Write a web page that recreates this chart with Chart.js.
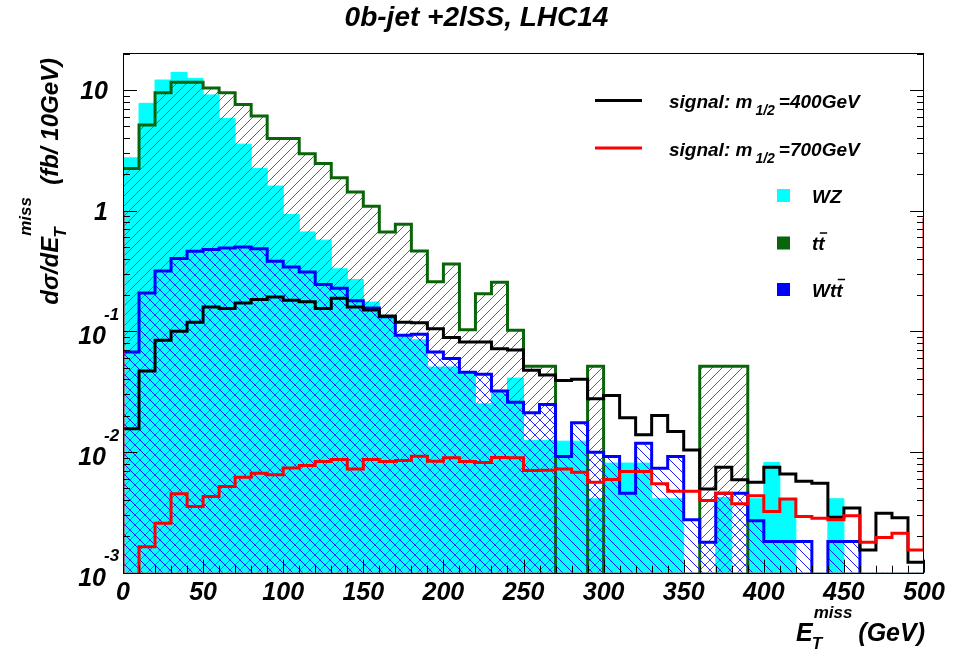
<!DOCTYPE html>
<html><head><meta charset="utf-8">
<script src="https://cdn.jsdelivr.net/npm/chart.js@4.4.0/dist/chart.umd.min.js"></script>
<style>html,body{margin:0;padding:0;background:#fff;}#c{display:block;}</style>
</head><body>
<canvas id="c" width="953" height="652"></canvas>
<script>
// ---- data (bins of 10 GeV, low edges) ----
const binLow = [0,10,20,30,40,50,60,70,80,90,100,110,120,130,140,150,160,170,180,190,
  200,210,220,230,240,250,260,270,280,290,300,310,320,330,340,350,360,370,380,390,
  400,410,420,430,440,450,460,470,480,490];
const binHigh = 500;
const wz = [2.74,7.76,12.1,14.0,12.5,9.1,5.82,3.56,2.24,1.60,
  0.93,0.667,0.57,0.33,0.269,0.175,0.13,0.09,0.085,0.0506,
  0.0506,0.045,0.0251,0.031,0.041,0.0125,0.0125,0.0123,0.0123,0.0041,
  0.0081,0.0081,0.0081,0.0041,0.0041,0,0,0.0042,0,0.0041,
  0.0082,0.0040,0,0,0.0041,0,0,0,0,0];
const ttbar = [2.24,5.12,9.5,11.6,11.6,10.4,9.5,7.6,6.1,3.97,
  3.97,2.96,2.46,1.87,1.43,1.09,0.667,0.773,0.464,0.258,
  0.362,0.103,0.205,0.255,0.102,0.0513,0.0513,0,0,0.0513,
  0,0,0,0,0,0,0.0513,0.0513,0.0513,0,
  0,0,0,0,0,0,0,0,0,0];
const wtt = [0.0673,0.208,0.317,0.401,0.461,0.476,0.491,0.50,0.483,0.381,
  0.342,0.310,0.244,0.228,0.179,0.156,0.132,0.0927,0.0947,0.0673,
  0.0595,0.0459,0.0441,0.032,0.0259,0.0212,0.0248,0.00918,0.0175,0.00996,
  0.00918,0.00455,0.0118,0.00734,0.00918,0.00274,0.00179,0.00455,0.00455,0.0027,
  0.00181,0.00181,0.00181,0,0.00181,0.00181,0,0,0,0];
const sig400 = [0.0156,0.0469,0.0842,0.100,0.119,0.159,0.155,0.172,0.184,0.193,
  0.181,0.176,0.155,0.188,0.159,0.150,0.134,0.119,0.118,0.105,
  0.089,0.0815,0.0815,0.0718,0.070,0.0475,0.0435,0.0392,0.040,0.0276,
  0.0294,0.0192,0.0139,0.0201,0.0148,0.0104,0.00495,0.00748,0.00588,0.00562,
  0.00748,0.00659,0.00572,0.00551,0.00288,0.00344,0.00154,0.00311,0.00286,0.00122];
const sig700 = [0,0.00164,0.00257,0.0045,0.00353,0.00427,0.00517,0.00618,0.00667,0.00647,
  0.00739,0.00773,0.00834,0.00867,0.00725,0.00866,0.00834,0.0085,0.00923,0.0084,
  0.00895,0.00834,0.00818,0.009,0.00895,0.00702,0.00705,0.00725,0.0068,0.00562,
  0.00591,0.00688,0.00688,0.00545,0.00473,0.00473,0.00396,0.00455,0.00372,0.00435,
  0.00321,0.00409,0.00292,0.00282,0.00274,0.00297,0.00179,0.00196,0.00212,0.00154];
const sig700LeftEdge = 1.0;
const sig700RightEdge = 0.87;

const xTickLabels = ['0','50','100','150','200','250','300','350','400','450','500'];
const xTickValues = [0,50,100,150,200,250,300,350,400,450,500];
const xMinorStep = 10;
const yDecades = [0.001,0.01,0.1,1,10];
const yTickLabels = [{b:'10',e:'-3'},{b:'10',e:'-2'},{b:'10',e:'-1'},{b:'1',e:''},{b:'10',e:''}];
const Y_MIN = 0.001, Y_MAX = 20.26;
const FLOOR = 1e-6;

// ---- helpers ----
function hist(vals){
  const pts = vals.map((v,i)=>({x:binLow[i], y: v>0 ? v : FLOOR}));
  pts.push({x:binHigh, y: pts[pts.length-1].y});
  return pts;
}
const cv = document.getElementById('c');
const mctx = cv.getContext('2d');
function makeHatch(color, dir, s){
  const c = document.createElement('canvas'); c.width = s; c.height = s;
  const g = c.getContext('2d');
  g.strokeStyle = color; g.lineWidth = 1;
  g.beginPath();
  if (dir === '/') {
    g.moveTo(-1,1); g.lineTo(1,-1);
    g.moveTo(0,s); g.lineTo(s,0);
    g.moveTo(s-1,s+1); g.lineTo(s+1,s-1);
  } else {
    g.moveTo(-1,s-1); g.lineTo(1,s+1);
    g.moveTo(0,0); g.lineTo(s,s);
    g.moveTo(s-1,-1); g.lineTo(s+1,1);
  }
  g.stroke();
  return mctx.createPattern(c,'repeat');
}
const C_WZ = '#00ffff', C_TT = '#0a640a', C_WTT = '#0000ff', C_S4 = '#000000', C_S7 = '#ff0000';
const ttHatch = makeHatch('#2f862f', '/', 10);
const wttHatch = makeHatch('#1a1aff', '\\', 10);
const FF = '"Liberation Sans", Arial, Helvetica, sans-serif';
const fnt = s => `italic bold ${s}px ${FF}`;

const redPts = [{x:binLow[0], y:sig700LeftEdge}].concat(hist(sig700)).concat([{x:binHigh, y:sig700RightEdge}]);

const deco = {
  id:'deco',
  afterDatasetsDraw(chart){
    const {ctx, chartArea:a, scales:{x, y}} = chart;
    ctx.save();
    ctx.strokeStyle = '#000'; ctx.fillStyle = '#000'; ctx.lineWidth = 1;
    // frame
    ctx.strokeRect(Math.round(a.left)+0.5, Math.round(a.top)+0.5, Math.round(a.right-a.left)-1, Math.round(a.bottom-a.top));
    // y ticks (both sides)
    ctx.beginPath();
    yDecades.forEach(d=>{
      for (let m=1;m<=9;m++){
        const v = d*m; if (v > Y_MAX) break;
        const py = Math.round(y.getPixelForValue(v))+0.5;
        const L = m===1 ? 14 : 7;
        ctx.moveTo(a.left, py); ctx.lineTo(a.left+L, py);
        ctx.moveTo(a.right, py); ctx.lineTo(a.right-L, py);
      }
    });
    // x ticks
    for (let v=x.min; v<=x.max; v+=xMinorStep){
      const px = Math.round(x.getPixelForValue(v))+0.5;
      const L = xTickValues.includes(v) ? 13 : 7;
      ctx.moveTo(px, a.bottom); ctx.lineTo(px, a.bottom-L);
    }
    ctx.stroke();
    // bottom axis line
    ctx.beginPath(); ctx.moveTo(a.left, a.bottom+0.5); ctx.lineTo(a.right, a.bottom+0.5); ctx.stroke();

    // x tick labels
    ctx.font = fnt(25); ctx.textAlign = 'center'; ctx.textBaseline = 'middle';
    xTickValues.forEach((v,i)=>{ ctx.fillText(xTickLabels[i], x.getPixelForValue(v), a.bottom+20); });
    // y tick labels
    yDecades.forEach((d,i)=>{
      const py = y.getPixelForValue(d);
      const lab = yTickLabels[i];
      if (lab.e) {
        ctx.font = fnt(25); ctx.textAlign = 'right'; ctx.textBaseline = 'middle';
        ctx.fillText(lab.b, 106, py+6);
        ctx.font = fnt(17); ctx.textAlign = 'left';
        ctx.fillText(lab.e, 104, py-16);
      } else {
        ctx.font = fnt(25); ctx.textAlign = 'right'; ctx.textBaseline = 'middle';
        ctx.fillText(lab.b, 108, py+2);
      }
    });

    // title
    ctx.font = fnt(28); ctx.textAlign = 'center'; ctx.textBaseline = 'alphabetic';
    ctx.fillText('0b-jet +2lSS, LHC14', cv.width/2, 26);

    // x axis title (right aligned at frame end)
    ctx.textAlign = 'left'; ctx.textBaseline = 'alphabetic';
    ctx.font = fnt(25); const wG = ctx.measureText(' (GeV)').width; const wE = ctx.measureText('E').width;
    ctx.font = fnt(17); const wM = ctx.measureText('miss').width;
    let xs = a.right + 1 - wG - wM - wE;
    const by = 641;
    ctx.font = fnt(25); ctx.fillText('E', xs, by);
    ctx.font = fnt(17); ctx.fillText('miss', xs+wE+1, by-23); ctx.fillText('T', xs+wE-1, by+8);
    ctx.font = fnt(25); ctx.fillText(' (GeV)', xs+wE+wM, by);

    // y axis title (rotated)
    ctx.save();
    ctx.translate(58, 0); ctx.rotate(-Math.PI/2);
    ctx.font = fnt(24); const w1 = ctx.measureText('d\u03c3/dE').width; const w3 = ctx.measureText('  (fb/ 10GeV)').width;
    ctx.font = fnt(17); const w2 = ctx.measureText('miss').width;
    const endY = 58; // screen y of text end
    let t0 = -(endY + w1 + w2 + w3);
    ctx.font = fnt(24); ctx.fillText('d\u03c3/dE', t0, 0);
    ctx.font = fnt(17); ctx.fillText('miss', t0+w1+1, -27); ctx.fillText('T', t0+w1-1, 8);
    ctx.font = fnt(24); ctx.fillText('  (fb/ 10GeV)', t0+w1+w2, 0);
    ctx.restore();

    // legend
    const legLines = [{c:C_S4, y:100.5, m:'400'}, {c:C_S7, y:148, m:'700'}];
    legLines.forEach(L=>{
      ctx.strokeStyle = L.c; ctx.lineWidth = 3;
      ctx.beginPath(); ctx.moveTo(595, L.y); ctx.lineTo(642, L.y); ctx.stroke();
      ctx.fillStyle = '#000'; ctx.textAlign = 'left';
      ctx.font = fnt(19); let tx = 669; const ty = L.y + 7.5;
      ctx.fillText('signal: m', tx, ty); tx += ctx.measureText('signal: m').width + 3;
      ctx.font = fnt(14); ctx.fillText('1/2', tx, ty+7); tx += ctx.measureText('1/2').width + 4;
      ctx.font = fnt(19); ctx.fillText('=' + L.m + 'GeV', tx, ty);
    });
    const legBoxes = [{c:C_WZ, y:195.5, t:'WZ', bar:null}, {c:C_TT, y:243, t:'tt', bar:1}, {c:C_WTT, y:289.5, t:'Wtt', bar:2}];
    legBoxes.forEach(B=>{
      ctx.fillStyle = B.c; ctx.fillRect(777, B.y-6.5, 13, 13);
      ctx.fillStyle = '#000'; ctx.font = fnt(19); ctx.textAlign='left';
      const ty = B.y + 7; ctx.fillText(B.t, 812, ty);
      if (B.bar !== null) {
        const pre = ctx.measureText(B.t.slice(0, B.bar)).width;
        const wt = ctx.measureText('t').width;
        ctx.strokeStyle = '#000'; ctx.lineWidth = 1.5;
        ctx.beginPath(); ctx.moveTo(812+pre+1.5, ty-17); ctx.lineTo(812+pre+wt+2.5, ty-17); ctx.stroke();
      }
    });
    ctx.restore();
  }
};

const common = {stepped:'before', pointRadius:0, borderJoinStyle:'miter', borderCapStyle:'butt', tension:0};
new Chart(cv, {
  type:'line',
  data:{datasets:[
    Object.assign({label:'signal: m1/2 =700GeV', data:redPts, borderColor:C_S7, borderWidth:3, fill:false, order:0}, common),
    Object.assign({label:'signal: m1/2 =400GeV', data:hist(sig400), borderColor:C_S4, borderWidth:3, fill:false, order:1}, common),
    Object.assign({label:'Wtt', data:hist(wtt), borderColor:C_WTT, borderWidth:3, backgroundColor:wttHatch, fill:'start', order:2}, common),
    Object.assign({label:'tt', data:hist(ttbar), borderColor:C_TT, borderWidth:3, backgroundColor:ttHatch, fill:'start', order:3}, common),
    Object.assign({label:'WZ', data:hist(wz), borderColor:C_WZ, borderWidth:1, backgroundColor:C_WZ, fill:'start', order:4}, common)
  ]},
  options:{
    responsive:false, animation:false, events:[],
    layout:{padding:{left:123, right:29, top:53, bottom:79.3}},
    scales:{
      x:{type:'linear', min:0, max:500, display:false},
      y:{type:'logarithmic', min:Y_MIN, max:Y_MAX, display:false}
    },
    plugins:{legend:{display:false}, tooltip:{enabled:false}, title:{display:false}}
  },
  plugins:[deco]
});
</script>
</body></html>
